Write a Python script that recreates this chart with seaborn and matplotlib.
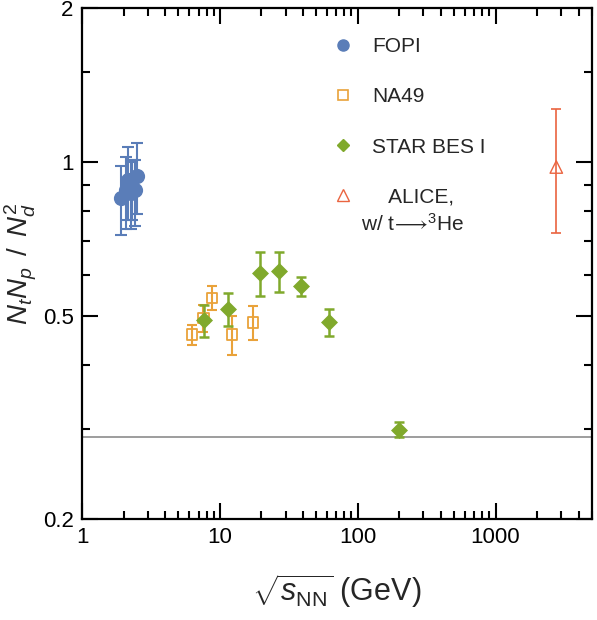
import matplotlib
matplotlib.use("Agg")
import matplotlib.pyplot as plt
import matplotlib.ticker as mticker
from matplotlib.lines import Line2D
import seaborn as sns
import pandas as pd

# FOPI
fopi_x = [1.92, 2.07, 2.16, 2.25, 2.32, 2.42, 2.52]
fopi_y = [0.85, 0.88, 0.92, 0.87, 0.89, 0.88, 0.94]
fopi_err = [0.13, 0.14, 0.15, 0.13, 0.12, 0.13, 0.15]

# NA49
na49_x = [6.3, 7.6, 8.8, 12.3, 17.3]
na49_y = [0.459, 0.494, 0.542, 0.459, 0.485]
na49_err = [0.02, 0.03, 0.03, 0.04, 0.037]

# STAR BES I
star_x = [7.7, 11.5, 19.6, 27.0, 39.0, 62.4, 200.0]
star_y = [0.49, 0.516, 0.607, 0.612, 0.571, 0.486, 0.299]
star_err = [0.035, 0.038, 0.06, 0.055, 0.025, 0.03, 0.01]

# ALICE
alice_x = [2760.0]
alice_y = [0.977]
alice_err_lo = [0.25]
alice_err_hi = [0.29]

ref_line = 0.29

sns.set_theme(style="ticks")
plt.rcParams["font.family"] = ["Liberation Sans", "DejaVu Sans"]
plt.rcParams["mathtext.fontset"] = "custom"
plt.rcParams["mathtext.rm"] = "Liberation Sans"
plt.rcParams["mathtext.it"] = "Liberation Sans:italic"

c_fopi = "#5a7db8"
c_na49 = "#e9a23a"
c_star = "#80a92c"
c_alice = "#ea6440"

fig = plt.figure(figsize=(5.97, 6.2), dpi=100)
ax = fig.add_axes([0.1374, 0.163, 0.854, 0.824])

ax.axhline(ref_line, color="#8c8c8c", lw=1.2, zorder=1)

ax.errorbar(fopi_x, fopi_y, yerr=fopi_err, fmt="none", ecolor=c_fopi,
            elinewidth=1.5, capsize=4, capthick=1.5, zorder=2)
ax.errorbar(na49_x, na49_y, yerr=na49_err, fmt="none", ecolor=c_na49,
            elinewidth=1.5, capsize=3.5, capthick=1.5, zorder=2)
ax.errorbar(star_x, star_y, yerr=star_err, fmt="none", ecolor=c_star,
            elinewidth=1.8, capsize=3.5, capthick=1.8, zorder=2)
ax.errorbar(alice_x, alice_y, yerr=[alice_err_lo, alice_err_hi], fmt="none",
            ecolor=c_alice, elinewidth=1.2, capsize=3.5, capthick=1.2, zorder=2)

df_f = pd.DataFrame({"x": fopi_x, "y": fopi_y})
df_n = pd.DataFrame({"x": na49_x, "y": na49_y})
df_s = pd.DataFrame({"x": star_x, "y": star_y})
df_a = pd.DataFrame({"x": alice_x, "y": alice_y})

sns.scatterplot(data=df_f, x="x", y="y", ax=ax, marker="o", s=120,
                color=c_fopi, edgecolor=c_fopi, linewidth=0, zorder=3)
sns.scatterplot(data=df_n, x="x", y="y", ax=ax, marker="s", s=55,
                facecolor="none", edgecolor=c_na49, linewidth=1.3, zorder=3)
sns.scatterplot(data=df_s, x="x", y="y", ax=ax, marker="D", s=75,
                color=c_star, edgecolor=c_star, linewidth=0, zorder=3)
sns.scatterplot(data=df_a, x="x", y="y", ax=ax, marker="^", s=80,
                facecolor="none", edgecolor=c_alice, linewidth=1.0, zorder=3)

ax.set_xscale("log")
ax.set_yscale("log")
ax.set_xlim(1, 5000)
ax.set_ylim(0.2, 2)

ax.xaxis.set_major_locator(mticker.FixedLocator([1, 10, 100, 1000]))
ax.xaxis.set_major_formatter(mticker.FixedFormatter(["1", "10", "100", "1000"]))
ax.xaxis.set_minor_locator(mticker.LogLocator(base=10, subs=range(2, 10), numticks=20))
ax.xaxis.set_minor_formatter(mticker.NullFormatter())
ax.yaxis.set_major_locator(mticker.FixedLocator([0.2, 0.5, 1, 2]))
ax.yaxis.set_major_formatter(mticker.FixedFormatter(["0.2", "0.5", "1", "2"]))
ax.yaxis.set_minor_locator(mticker.FixedLocator([0.3, 0.4, 0.6, 0.7, 0.8, 0.9, 1.5]))
ax.yaxis.set_minor_formatter(mticker.NullFormatter())

ax.tick_params(which="both", direction="in", top=True, right=True, width=1.5,
               labelsize=16, colors="black")
ax.tick_params(which="major", length=11.5, pad=6)
ax.tick_params(which="minor", length=5.5)
for sp in ax.spines.values():
    sp.set_linewidth(1.6)
    sp.set_color("black")

ax.set_xlabel(r"$\sqrt{s_{\rm NN}}$ (GeV)", fontsize=22, labelpad=17)
ax.set_ylabel(r"$N_tN_p\ \,/\ \,N_d^2$", fontsize=20, labelpad=3)

handles = [
    Line2D([], [], ls="none", marker="o", ms=8, color=c_fopi),
    Line2D([], [], ls="none", marker="s", ms=6.5, mfc="none", mec=c_na49, mew=1.2),
    Line2D([], [], ls="none", marker="D", ms=6.5, color=c_star),
    Line2D([], [], ls="none", marker="^", ms=8, mfc="none", mec=c_alice, mew=1.0),
]
labels = ["FOPI", "NA49", "STAR BES I", "   ALICE,"]
ax.legend(handles, labels, loc="upper left", bbox_to_anchor=(0.455, 0.98),
          frameon=False, fontsize=15, handlelength=1.0, handletextpad=0.9,
          labelspacing=1.5)
ax.text(0.548, 0.578, r"w/ t$\!\longrightarrow\!^3$He", transform=ax.transAxes,
        fontsize=15, va="center", ha="left")

fig.savefig("out.png", dpi=100)
